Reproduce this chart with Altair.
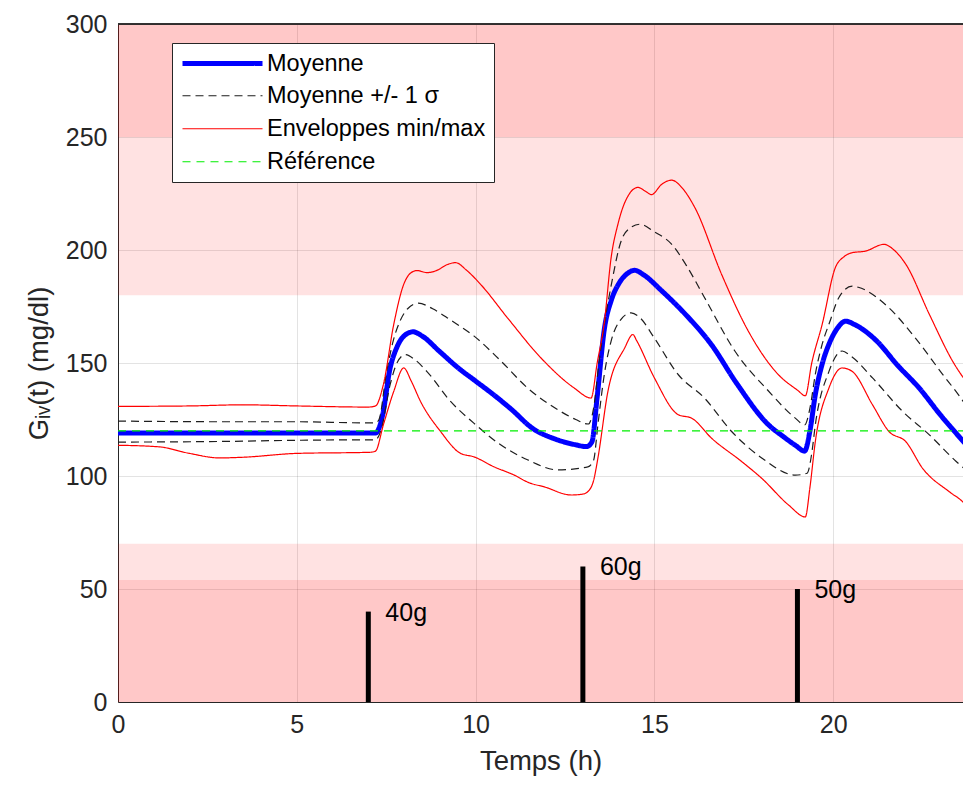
import altair as alt
import pandas as pd

# ---------------- data ----------------
t_moy = [0, 2, 4, 6, 7.2, 7.4, 7.6, 7.8, 8.0, 8.25, 8.5, 9.0, 9.5, 10.0, 10.5, 11.0, 11.6, 12.2,
         12.8, 13.1, 13.25, 13.4, 13.6, 13.8, 14.0, 14.2, 14.45, 14.7, 15.2, 15.9, 16.6, 17.3,
         18.2, 18.6, 18.95, 19.2, 19.35, 19.5, 19.7, 19.9, 20.1, 20.35, 20.6, 21.2, 21.8, 22.4,
         23.0, 23.35, 24.0]
g_moy = [119, 119, 119, 119, 119, 127, 147, 157, 162, 163.8, 162, 155, 148, 142, 136, 129.5,
         121, 116.5, 113.8, 113, 115, 135, 165, 178, 185, 189, 191, 189, 182, 171, 158, 141,
         122.5, 117.5, 113.5, 111, 120, 136, 150, 159, 165, 168.5, 167, 160, 149, 139,
         127, 120.5, 109]

t_sup = [0, 3, 5, 7, 7.2, 7.3, 7.5, 7.7, 7.9, 8.1, 8.4, 8.8, 9.3, 9.95, 10.7, 11.45, 12.3, 12.8,
         13.15, 13.3, 13.45, 13.6, 13.8, 14.07, 14.3, 14.59, 15.0, 15.48, 15.9, 16.4, 17.25,
         18.19, 18.94, 19.2, 19.35, 19.5, 19.69, 19.9, 20.16, 20.53, 20.7, 21.56, 22.3, 23.06,
         23.5, 24.0]
g_sup = [124.3, 124, 124, 123.5, 123.5, 125, 145, 160, 169, 174, 176.5, 174, 169, 162, 151, 139,
         129.3, 125, 123, 130, 150, 167, 185, 204, 209.5, 211.4, 208, 202.6, 193, 179, 155.3,
         137.6, 125.6, 122.6, 130, 145, 158.2, 168, 179, 184, 183.5, 174.4, 161, 145,
         136, 124.5]

t_inf = [0, 3, 5, 7, 7.2, 7.35, 7.61, 7.8, 8.03, 8.3, 8.64, 9.3, 9.95, 10.7, 11.45, 12.3, 13.14,
         13.3, 13.42, 13.6, 13.79, 14.05, 14.35, 14.6, 15.0, 15.67, 16.4, 17.16, 18.0, 18.94,
         19.27, 19.4, 19.5, 19.88, 20.25, 20.5, 21.1, 21.94, 22.69, 23.44, 24.0]
g_inf = [115, 115.3, 115.8, 116, 116, 120, 140.4, 150, 153.7, 151.5, 146.2, 133, 123.4, 113.8,
         107.2, 102.7, 104, 107, 122.6, 145, 159.7, 169, 172.2, 170, 161, 144.8, 134.5, 119.7,
         108, 100.4, 101.2, 110, 122.6, 146.2, 155.3, 153, 143.4, 128.6, 118.2, 106.4, 99]

t_max = [0, 2, 3.5, 5, 7, 7.2, 7.42, 7.71, 7.99, 8.2, 8.36, 8.64, 8.92, 9.2, 9.44, 9.75, 10.14,
         10.89, 11.83, 12.76, 13.23, 13.4, 13.6, 13.79, 13.98, 14.2, 14.54, 14.75, 14.92, 15.2,
         15.48, 15.8, 16.13, 16.88, 17.63, 18.47, 19.0, 19.22, 19.4, 19.69, 20.06, 20.3, 20.53,
         20.9, 21.42, 21.7, 22.03, 22.69, 23.34, 24.0]
g_max = [130.8, 131, 131.5, 131, 130.5, 131, 140.4, 167, 184.8, 190, 190.9, 190, 191, 193.5,
         194.4, 191, 184.8, 170, 152.2, 138.9, 134.5, 150, 168, 196.6, 211.4, 222, 227.7, 226,
         224.5, 229, 230.9, 227, 218.8, 189.2, 164, 144.8, 138, 135.5, 150, 167, 192.2, 197,
         198.8, 199.5, 202.5, 200, 193.7, 171.5, 150.8, 136]

t_min = [0, 1.15, 2, 2.84, 3.5, 5, 7.05, 7.2, 7.42, 7.71, 7.99, 8.2, 8.46, 9.02, 9.58, 9.95,
         10.51, 11.08, 11.5, 11.92, 12.67, 13.0, 13.18, 13.3, 13.42, 13.7, 14.17, 14.4, 14.5,
         15.0, 15.67, 16.04, 16.6, 17.44, 18.0, 18.75, 19.22, 19.35, 19.5, 19.88, 20.25, 20.53,
         21.1, 21.56, 22.03, 22.5, 23.25, 23.62, 24.0]
g_min = [113.6, 112.9, 110, 108, 108.3, 110, 110.5, 111, 122.6, 137.4, 147.8, 142, 133, 119.7,
         110, 108.5, 104.1, 100.4, 97, 95.2, 91.6, 92, 93.8, 98, 107.9, 137.4, 156.7, 162.6, 160,
         143.4, 127.1, 125.6, 116.7, 106.4, 99, 87.2, 81.9, 95, 115.2, 138.9, 147.8, 146.3,
         131.5, 119.7, 115.2, 103.4, 93, 88.6, 81]

t_ref = [0, 24]
g_ref = [120, 120]

repas_t = [7, 13, 19]
repas_g = [40, 60, 50]
repas_lbl = ["40g", "60g", "50g"]

zone_bas = [0, 0, 180, 250]
zone_haut = [70, 54, 300, 300]

series = ["Moyenne", "Moyenne +/- 1 σ", "Enveloppes min/max", "Référence"]

# ---------------- tables ----------------
curves = [
    ("Moyenne", "moy", t_moy, g_moy),
    ("Moyenne +/- 1 σ", "sup", t_sup, g_sup),
    ("Moyenne +/- 1 σ", "inf", t_inf, g_inf),
    ("Enveloppes min/max", "max", t_max, g_max),
    ("Enveloppes min/max", "min", t_min, g_min),
    ("Référence", "ref", t_ref, g_ref),
]
rows = []
for serie, courbe, ts, gs in curves:
    for t, g in zip(ts, gs):
        rows.append({"t": t, "g": g, "serie": serie, "courbe": courbe})
df_lines = pd.DataFrame(rows)
df_repas = pd.DataFrame({"t": repas_t, "g": repas_g, "lbl": repas_lbl, "zero": [0] * len(repas_t)})
df_zones = pd.DataFrame({"y1": zone_bas, "y2": zone_haut})

FONT = "Liberation Sans"
W, H = 845, 678

xs = alt.Scale(domain=[0, 23.63], nice=False, zero=False)
ys = alt.Scale(domain=[0, 300], nice=False)

leg = alt.Legend(title=None, orient="none", legendX=54, legendY=19,
                 fillColor="white", strokeColor="#262626", padding=8,
                 symbolType="M-1,0H7", symbolSize=400, labelOffset=62,
                 labelFontSize=23.5, labelFont=FONT, labelColor="black",
                 rowPadding=8, labelLimit=400)

zones = alt.Chart(df_zones).mark_rect(color="#ff0000", opacity=0.115).encode(
    x=alt.value(0), x2=alt.value(W),
    y=alt.Y("y1:Q", scale=ys), y2="y2:Q",
)

# top edge of the axes box (MATLAB "box on"); the right edge lies outside the picture
top_edge = alt.Chart(df_zones).mark_rule(color="#262626", strokeWidth=1).encode(
    y=alt.datum(300), x=alt.value(0), x2=alt.value(W),
)

lines = alt.Chart(df_lines).mark_line(strokeCap="butt", strokeJoin="round",
                                       interpolate="monotone", clip=True).encode(
    x=alt.X("t:Q", scale=xs,
            axis=alt.Axis(title="Temps (h)", values=[0, 5, 10, 15, 20], format="d",
                          labelFlush=False)),
    y=alt.Y("g:Q", scale=ys,
            axis=alt.Axis(title="Gᵢᵥ(t) (mg/dl)", values=[0, 50, 100, 150, 200, 250, 300])),
    color=alt.Color("serie:N", scale=alt.Scale(domain=series,
                    range=["#0000ff", "#1e1e1e", "#ff0000", "#00ee00"]), legend=leg),
    strokeDash=alt.StrokeDash("serie:N", scale=alt.Scale(domain=series,
                              range=[[1, 0], [8, 5], [1, 0], [8, 6]]), legend=leg),
    strokeWidth=alt.StrokeWidth("serie:N", scale=alt.Scale(type="ordinal", domain=series,
                                range=[5, 1.2, 1.2, 1.2]), legend=leg),
    detail="courbe:N",
    order="t:Q",
)

bars = alt.Chart(df_repas).mark_rule(color="black", strokeWidth=5, strokeCap="butt").encode(
    x=alt.X("t:Q", scale=xs), y=alt.Y("zero:Q", scale=ys), y2="g:Q",
)
labels = alt.Chart(df_repas).mark_text(align="left", baseline="middle", dx=17, dy=1,
                                        fontSize=25, font=FONT, color="black").encode(
    x=alt.X("t:Q", scale=xs), y=alt.Y("g:Q", scale=ys), text="lbl:N",
)

chart = alt.layer(zones, top_edge, lines, bars, labels).properties(
    width=W, height=H,
    autosize="none",
    padding={"left": 110, "top": 16, "right": 0, "bottom": 75},
).configure_view(strokeWidth=0).configure_axis(
    labelFont=FONT, titleFont=FONT, labelFontSize=25, titleFontSize=27.5,
    labelColor="#262626", titleColor="#262626", titleFontWeight="normal",
    domainColor="#262626", ticks=False, grid=True, gridColor="#262626", gridOpacity=0.13,
).configure_axisX(labelPadding=10, titlePadding=10).configure_axisY(
    labelPadding=11, titlePadding=12,
)

chart.save("out.html", embed_options={"renderer": "svg", "actions": False})
